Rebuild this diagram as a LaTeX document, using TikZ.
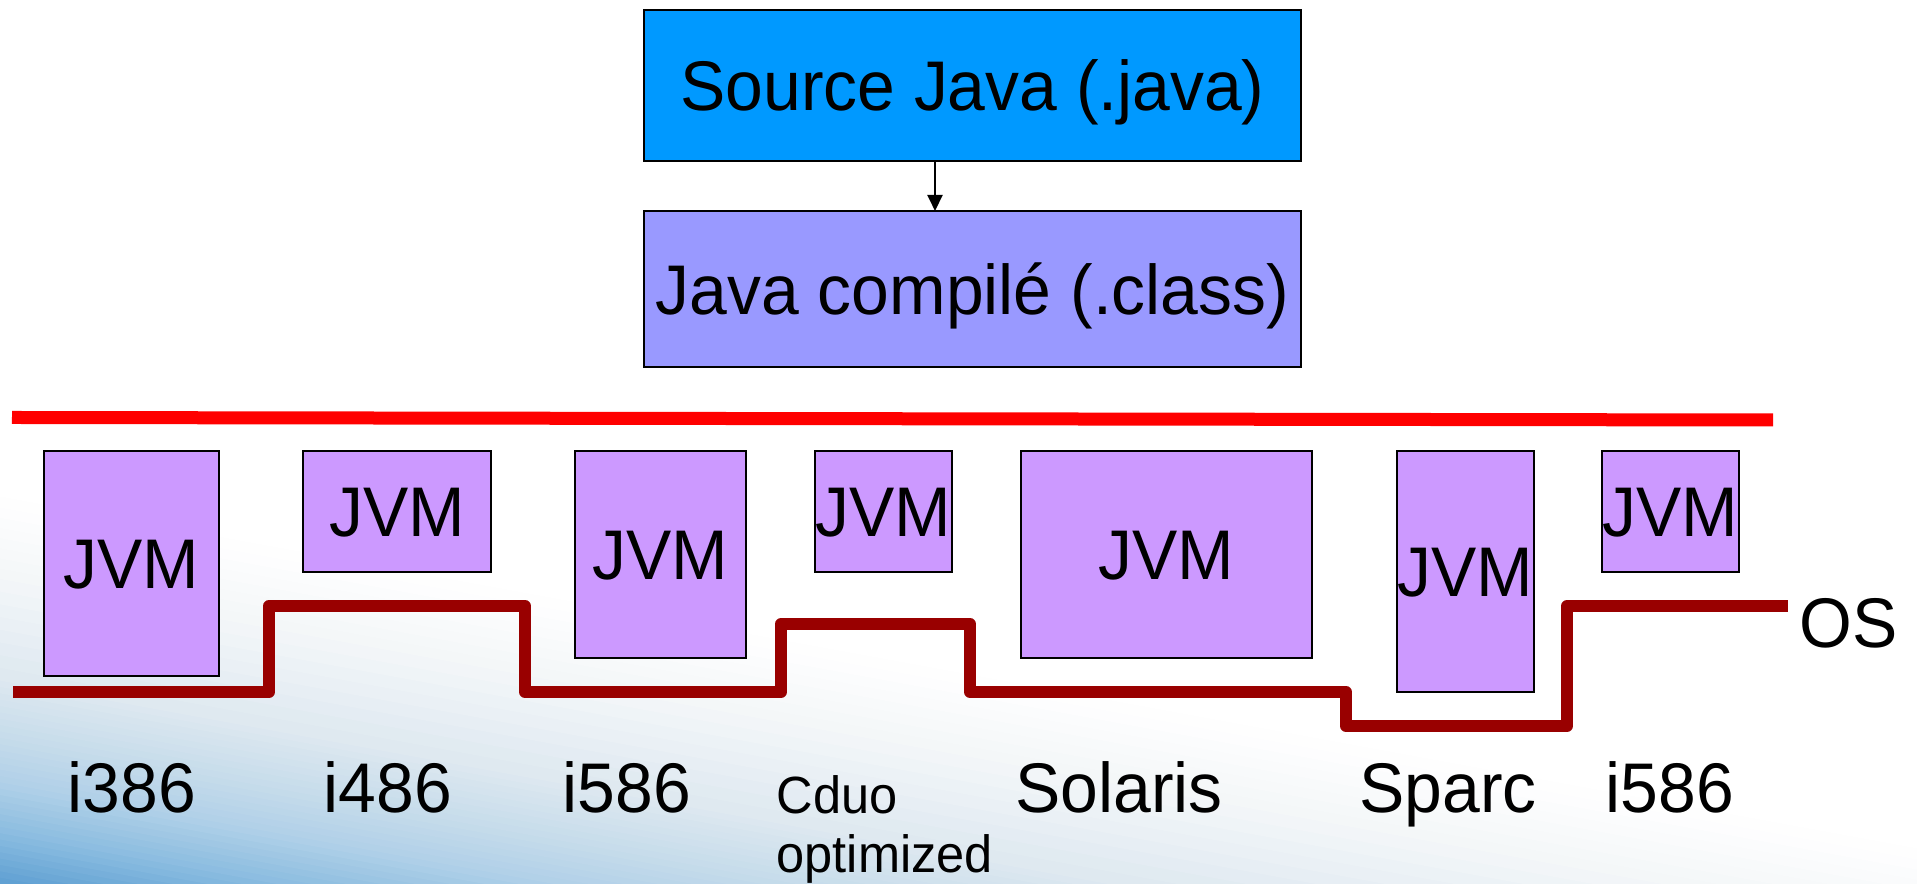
\documentclass[tikz,border=0pt]{standalone}
\usepackage{fontspec}
\setmainfont{Liberation Sans}[FakeStretch=0.965]
\usepackage{xcolor}
\usetikzlibrary{arrows.meta}
\definecolor{SourceBlue}{HTML}{0099FF}
\definecolor{ClassViolet}{HTML}{9999FF}
\definecolor{JvmLilac}{HTML}{CC99FF}
\definecolor{OsRed}{HTML}{990000}
\definecolor{BarRed}{HTML}{FF0000}
\definecolor{BgDeep}{HTML}{5E9FD2}
\definecolor{BgA}{HTML}{8ABCE0}
\definecolor{BgB}{HTML}{B0D0E8}
\definecolor{BgC}{HTML}{C8DDEB}
\definecolor{BgD}{HTML}{DDE8F0}
\definecolor{BgE}{HTML}{F3F6F8}
\newcommand{\BoxFont}{\fontsize{20}{24}\selectfont}
\newcommand{\NoteFont}{\fontsize{14.9}{17}\selectfont}
\tikzset{
  code box/.style={draw=black,line width=0.5pt,inner sep=0pt,outer sep=0pt,
    font=\BoxFont,text height=14.3pt,text depth=0pt},
  jvm box/.style={code box,fill=JvmLilac},
  flow/.style={draw=black,line width=0.6pt,-{Triangle[length=1.6mm,width=1.5mm]}},
  os line/.style={draw=OsRed,line width=0.12cm,line join=round},
  vm bar/.style={draw=BarRed,line width=0.13cm},
  platform/.style={anchor=base,font=\BoxFont,inner sep=0pt}
}

\begin{document}
\begin{tikzpicture}[x=1cm,y=1cm]
  % 1917 x 884 px, one px = 0.01 cm
  \path[use as bounding box] (0,0) rectangle (19.17,8.84);
  \fill[white] (0,0) rectangle (19.17,8.84);

  % background fade, darkest in the lower left corner
  \newcommand{\bgseg}[4]{%
    \foreach \k in {0,...,7}{%
      \pgfmathsetmacro{\ya}{#1+(#2-#1)*\k/8}%
      \pgfmathsetmacro{\yb}{#1+(#2-#1)*(\k+1)/8+0.006}%
      \pgfmathtruncatemacro{\pct}{100-100*(\k+0.5)/8}%
      \fill[#3!\pct!#4] (-3,\ya) rectangle (23,\yb);%
    }}
  \begin{scope}
    \clip (0,0) rectangle (19.17,8.84);
    \begin{scope}[rotate=-10.4]
      \fill[BgDeep] (-3,-3) rectangle (23,0.005);
      \bgseg{0}{0.5}{BgDeep}{BgA}
      \bgseg{0.5}{1.0}{BgA}{BgB}
      \bgseg{1.0}{1.5}{BgB}{BgC}
      \bgseg{1.5}{2.0}{BgC}{BgD}
      \bgseg{2.0}{3.0}{BgD}{BgE}
      \bgseg{3.0}{3.8}{BgE}{white}
    \end{scope}
  \end{scope}

  % compile chain
  \node[code box,fill=SourceBlue,minimum width=6.57cm,minimum height=1.51cm]
    (src) at (9.725,7.985) {Source Java (.java)};
  \node[code box,fill=ClassViolet,minimum width=6.57cm,minimum height=1.56cm]
    (cls) at (9.725,5.95) {Java compilé (.class)};
  \draw[flow] ([xshift=-3.75mm]src.south) -- ([xshift=-3.75mm]cls.north);

  \draw[vm bar] (0.12,4.665) -- (17.73,4.64);

  % one JVM per platform: name, left, right, bottom
  \def\jvmtop{4.33}
  \newcommand{\jvmbox}[4]{%
    \pgfmathsetmacro{\jw}{#3-#2}%
    \pgfmathsetmacro{\jh}{\jvmtop-#4}%
    \node[jvm box,minimum width=\jw cm,minimum height=\jh cm]
      (#1) at ({(#2+#3)/2},{(\jvmtop+#4)/2}) {JVM};%
  }
  \jvmbox{jvmA}{0.44}{2.19}{2.08}
  \jvmbox{jvmB}{3.03}{4.91}{3.12}
  \jvmbox{jvmC}{5.75}{7.46}{2.26}
  \jvmbox{jvmD}{8.15}{9.52}{3.12}
  \jvmbox{jvmE}{10.21}{13.12}{2.26}
  \jvmbox{jvmF}{13.97}{15.34}{1.92}
  \jvmbox{jvmG}{16.02}{17.39}{3.12}

  \draw[os line] (0.13,1.92) -- (2.69,1.92) -- (2.69,2.78) -- (5.25,2.78)
    -- (5.25,1.92) -- (7.81,1.92) -- (7.81,2.60) -- (9.70,2.60) -- (9.70,1.92)
    -- (13.46,1.92) -- (13.46,1.58) -- (15.67,1.58) -- (15.67,2.78) -- (17.88,2.78);
  \node[anchor=base west,font=\BoxFont,inner sep=0pt] (os) at (17.99,2.36) {OS};

  % platforms
  \node[platform] (pA) at (1.32,0.71) {i386};
  \node[platform] (pB) at (3.88,0.71) {i486};
  \node[platform] (pC) at (6.27,0.71) {i586};
  \node[anchor=base west,align=left,font=\NoteFont,inner sep=0pt]
    (pD) at (7.76,0.11) {Cduo\\optimized};
  \node[platform] (pE) at (11.19,0.71) {Solaris};
  \node[platform] (pF) at (14.48,0.71) {Sparc};
  \node[platform] (pG) at (16.70,0.71) {i586};
\end{tikzpicture}
\end{document}
